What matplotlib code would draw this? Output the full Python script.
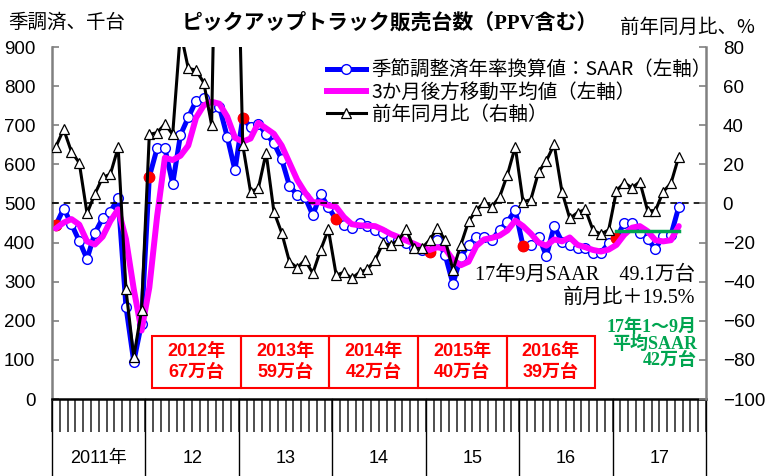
import numpy as np
import matplotlib
matplotlib.use('Agg')
import matplotlib.pyplot as plt
from matplotlib.patches import Rectangle
from matplotlib.lines import Line2D

# フォント（欧文 + 日本語フォールバック）
SANS = ['Liberation Sans', 'Noto Sans CJK JP']
SERIF = ['Liberation Serif', 'Noto Sans CJK JP']
JP = ['Noto Sans CJK JP', 'DejaVu Sans']
plt.rcParams['font.family'] = SANS

# データ（2011年1月〜2017年9月、月次）
months = np.arange(81)
saar = [445, 487, 447, 404, 358, 424, 462, 479, 513, 236, 95, 193,
        568, 641, 641, 550, 675, 720, 762, 770, 747, 747, 671, 585,
        719, 695, 703, 678, 654, 613, 545, 522, 516, 470, 524, 490,
        459, 445, 436, 451, 443, 432, 424, 411, 407, 398, 385, 381,
        377, 407, 368, 294, 364, 394, 415, 415, 407, 432, 453, 483,
        391, 394, 415, 366, 442, 402, 394, 385, 385, 373, 374, 398,
        411, 451, 451, 425, 410, 383, 417, 419, 491]
ma3 = [436, 451, 460, 446, 403, 395, 415, 455, 485, 409, 281, 175,
       285, 467, 617, 611, 622, 648, 719, 751, 760, 755, 722, 668,
       658, 666, 706, 692, 678, 648, 604, 560, 528, 503, 503, 495,
       491, 465, 447, 444, 443, 442, 433, 422, 414, 405, 397, 388,
       381, 388, 384, 356, 342, 351, 391, 408, 412, 418, 431, 456,
       442, 423, 400, 392, 408, 403, 413, 394, 388, 381, 377, 382,
       394, 420, 438, 442, 429, 406, 403, 406, 442]
yoy = [29.0, 37.9, 26.4, 20.8, -5.1, 4.8, 13.3, 15.0, 28.7, -43.9, -78.7, -54.5,
       35.3, 36.2, 40.6, 35.3, 88.0, 69.1, 68.2, 61.7, 40.1, 250.0, 600.0, 200.0,
       29.9, 6.0, 7.7, 25.9, -4.2, -15.0, -29.8, -32.9, -28.9, -35.7, -23.8, -13.3,
       -36.6, -35.2, -38.3, -35.2, -33.7, -28.9, -20.4, -21.3, -18.7, -13.3, -23.0, -23.0,
       -18.7, -12.7, -18.7, -34.0, -21.3, -9.2, -3.5, 0.6, -1.7, 3.4, 14.8, 29.0,
       0.9, 1.9, 16.2, 21.8, 30.2, 6.0, -7.6, -4.7, -3.0, -13.8, -15.6, -13.6,
       6.5, 10.6, 8.0, 11.1, -3.7, -3.7, 6.0, 10.3, 23.9]
jan_idx = [0, 12, 24, 36, 48, 60, 72]
avg_2017 = 430
year_labels = ['2011年', '12', '13', '14', '15', '16', '17']
box_labels = ['2012年\n67万台', '2013年\n59万台', '2014年\n42万台',
              '2015年\n40万台', '2016年\n39万台']

W, H = 774, 476
fig = plt.figure(figsize=(W / 100, H / 100), dpi=100)
ax = fig.add_axes([52 / W, 1 - 399 / H, 654 / W, 352 / H])
ax2 = ax.twinx()

# 左軸：SAAR と 3か月移動平均
ax.plot(months, saar, color='#0000FF', lw=3.6, marker='o', ms=7,
        mfc='white', mec='#0000FF', mew=1.0, zorder=2)
ax.plot(months[jan_idx], np.array(saar)[jan_idx], 'o', color='#FF0000',
        ms=7.5, zorder=2.5)
ax.plot(months, ma3, color='#FF00FF', lw=4.3, zorder=3,
        solid_joinstyle='round', solid_capstyle='round')
ax.plot(months[72:], [avg_2017] * len(months[72:]), color='#00A550', lw=2.5, zorder=4)

# 右軸：前年同月比
ax2.plot(months, yoy, color='black', lw=2.2, marker='^', ms=6.5,
         mfc='white', mec='black', mew=0.9, zorder=3)
ax2.axhline(0, color='black', ls=(0, (4, 3)), lw=1.2, zorder=1)

ax.set_xlim(-0.5, 83.5)
ax.set_ylim(0, 900)
ax2.set_ylim(-100, 80)
ax.set_yticks(np.arange(0, 901, 100))
ax2.set_yticks(np.arange(-100, 81, 20))
ax.set_xticks(np.arange(-0.5, 84, 1))
ax.tick_params(axis='x', length=24, width=1.2, direction='out',
               labelbottom=False, color='#303030')
ax.tick_params(axis='y', direction='in', length=5, width=1.2,
               color='#808080', labelsize=13.5, pad=12)
ax2.tick_params(axis='y', direction='in', length=5, width=1.2,
                color='#808080', labelsize=13.5, pad=12)

for a in (ax, ax2):
    a.spines['top'].set_visible(False)
ax.spines['right'].set_visible(False)
ax2.spines['left'].set_visible(False)
ax2.spines['bottom'].set_visible(False)
ax.spines['left'].set_color('#808080')
ax.spines['left'].set_linewidth(1.8)
ax2.spines['right'].set_color('#808080')
ax2.spines['right'].set_linewidth(1.8)
ax.spines['bottom'].set_linewidth(1.8)

# 年の区切り線と年ラベル
xt = ax.get_xaxis_transform()
for b in range(0, 85, 12):
    ax.plot([b - 0.5, b - 0.5], [0, -0.22], transform=xt, clip_on=False,
            color='black', lw=1.0)
for k, lab in enumerate(year_labels):
    ax.text(12 * k + 5.5, -0.168, lab, transform=xt, ha='center', va='center',
            fontsize=13)

# 年間販売台数の赤枠
for k, lab in enumerate(box_labels):
    x0 = 0.153 + k * 0.1355
    ax2.add_patch(Rectangle((x0, 0.031), 0.1355, 0.148, transform=ax2.transAxes,
                            fill=False, edgecolor='#FF0000', lw=1.5, zorder=5))
    ax2.text(x0 + 0.1355 / 2, 0.105, lab, transform=ax2.transAxes, ha='center',
             va='center', color='#FF0000', fontsize=13, fontweight='bold',
             linespacing=1.35, zorder=6)

# 凡例
handles = [
    Line2D([], [], color='#0000FF', lw=3.6, marker='o', ms=7, mfc='white',
           mec='#0000FF', mew=1.0),
    Line2D([], [], color='#FF00FF', lw=4.3),
    Line2D([], [], color='black', lw=2.2, marker='^', ms=6.5, mfc='white',
           mec='black', mew=0.9),
]
labels = ['季節調整済年率換算値：SAAR（左軸）', '3か月後方移動平均値（左軸）', '前年同月比（右軸）']
ax2.legend(handles, labels, loc='upper left', bbox_to_anchor=(327 / W, 1 - 60 / H),
           bbox_transform=fig.transFigure, frameon=False,
           prop={'family': JP, 'size': 14}, handlelength=2.0,
           handletextpad=0.3, labelspacing=0.05, borderpad=0, borderaxespad=0)

# タイトル・軸ラベル
fig.text(390 / W, 1 - 23 / H, 'ピックアップトラック販売台数（PPV含む）', ha='center',
         va='center', fontsize=15, fontweight='bold', family=SERIF)
fig.text(8 / W, 1 - 22 / H, '季調済、千台', ha='left', va='center', fontsize=14, family=JP)
fig.text(755 / W, 1 - 27 / H, '前年同月比、%', ha='right', va='center', fontsize=14,
         family=JP)

# 注記
fig.text(695 / W, 1 - 275 / H, '17年9月SAAR　49.1万台', ha='right', va='center',
         fontsize=14.5, family=SERIF)
fig.text(695 / W, 1 - 298 / H, '前月比＋19.5%', ha='right', va='center',
         fontsize=14.5, family=SERIF)
fig.text(697 / W, 1 - 344 / H, '17年1～9月\n平均SAAR\n42万台', ha='right', va='center',
         fontsize=13, fontweight='bold', color='#00A550', family=SERIF,
         linespacing=0.95)

fig.savefig('out.png', dpi=100)
